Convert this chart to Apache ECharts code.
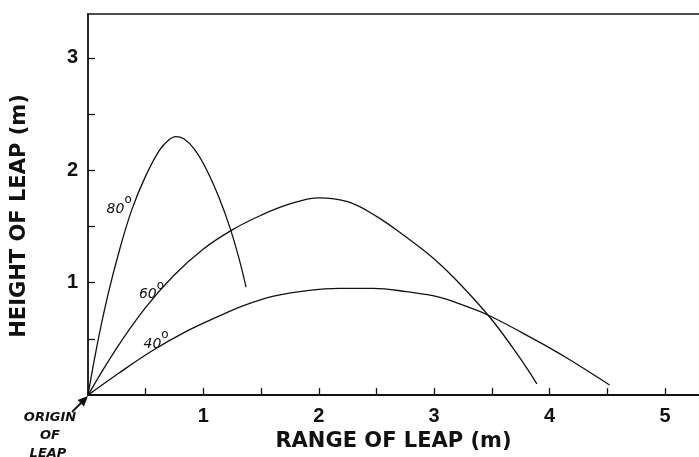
<!DOCTYPE html>
<html>
<head>
<meta charset="utf-8">
<script src="https://cdn.jsdelivr.net/npm/echarts@6/dist/echarts.min.js"></script>
<style>
  html, body { margin: 0; padding: 0; background: #fff; }
  #chart { width: 699px; height: 457px; }
</style>
</head>
<body>
<div id="chart"></div>
<script>
// ---- data ----
const range80  = [0, 0.08, 0.17, 0.27, 0.38, 0.50, 0.62, 0.70, 0.76, 0.83, 0.92, 1.02, 1.13, 1.23, 1.31, 1.37];
const height80 = [0, 0.45, 0.88, 1.28, 1.65, 1.95, 2.18, 2.27, 2.30, 2.28, 2.19, 2.02, 1.77, 1.49, 1.21, 0.96];

const range60  = [0, 0.25, 0.50, 0.75, 1.00, 1.25, 1.50, 1.75, 2.00, 2.25, 2.50, 2.75, 3.00, 3.25, 3.50, 3.75, 3.89];
const height60 = [0, 0.42, 0.78, 1.07, 1.30, 1.47, 1.60, 1.70, 1.755, 1.72, 1.59, 1.41, 1.21, 0.96, 0.67, 0.32, 0.10];

const range40  = [0, 0.26, 0.55, 0.84, 1.13, 1.36, 1.61, 1.90, 2.18, 2.47, 2.76, 3.05, 3.25, 3.47, 3.86, 4.15, 4.52];
const height40 = [0, 0.19, 0.39, 0.56, 0.70, 0.80, 0.88, 0.93, 0.95, 0.95, 0.92, 0.87, 0.80, 0.71, 0.50, 0.33, 0.09];

const angleNames = ['80', '60', '40'];
const angleLabelAt = [[0.27, 1.69], [0.55, 0.93], [0.59, 0.49]];

const xTicks = [0.5, 1, 1.5, 2, 2.5, 3, 3.5, 4, 4.5, 5];
const xTickLabels = [1, 2, 3, 4, 5];
const yTicks = [0.5, 1, 1.5, 2, 2.5, 3];
const yTickLabels = [1, 2, 3];

const xTitle = 'RANGE OF LEAP (m)';
const yTitle = 'HEIGHT OF LEAP (m)';
const originText = ['ORIGIN', 'OF', 'LEAP'];

// ---- chart ----
const pairs = (xs, ys) => xs.map((x, i) => [x, ys[i]]);
const FONT = '"DejaVu Sans", "Liberation Sans", sans-serif';
const DIGITS = '"Liberation Sans", Arial, sans-serif';
const INK = '#111';

function curve(name, xs, ys, idx) {
  return {
    name: name,
    type: 'line',
    data: pairs(xs, ys),
    symbol: 'none',
    smooth: 0.4,
    clip: false,
    lineStyle: { color: INK, width: 1.3 },
    silent: true,
    markPoint: {
      symbol: 'circle',
      symbolSize: 0,
      silent: true,
      data: [{
        coord: angleLabelAt[idx],
        label: {
          show: true,
          position: 'inside',
          formatter: '{n|' + angleNames[idx] + '}{o|o}',
          rich: {
            n: { fontFamily: FONT, fontSize: 14, fontStyle: 'italic', color: INK, lineHeight: 22, verticalAlign: 'bottom' },
            o: { fontFamily: FONT, fontSize: 12, color: INK, lineHeight: 22, verticalAlign: 'top' }
          }
        }
      }]
    }
  };
}

const originFont = 'italic bold 13px ' + FONT;

const chart = echarts.init(document.getElementById('chart'), null, { renderer: 'canvas' });
chart.setOption({
  animation: false,
  backgroundColor: '#fff',
  grid: { left: 88, right: 0, top: 14, bottom: 60, containLabel: false },
  xAxis: [{
    type: 'value', min: 0, max: 5.295,
    position: 'bottom',
    splitLine: { show: false },
    axisLine: { show: true, onZero: false, lineStyle: { color: INK, width: 1.8 } },
    axisTick: { show: true, inside: true, length: 7, customValues: xTicks, lineStyle: { color: INK, width: 1.3 } },
    axisLabel: { show: true, customValues: xTickLabels, margin: 11, color: INK, fontFamily: DIGITS, fontWeight: 'bold', fontSize: 20 },
    name: xTitle, nameLocation: 'middle', nameGap: 34,
    nameTextStyle: { color: INK, fontFamily: FONT, fontWeight: 'bold', fontSize: 21 }
  }, {
    type: 'value', min: 0, max: 5.295,
    position: 'top',
    splitLine: { show: false },
    axisLine: { show: true, onZero: false, lineStyle: { color: INK, width: 1.5 } },
    axisTick: { show: false },
    axisLabel: { show: false }
  }],
  yAxis: {
    type: 'value', min: 0, max: 3.39,
    splitLine: { show: false },
    axisLine: { show: true, onZero: false, lineStyle: { color: INK, width: 1.8 } },
    axisTick: { show: true, inside: true, length: 7, customValues: yTicks, lineStyle: { color: INK, width: 1.3 } },
    axisLabel: { show: true, customValues: yTickLabels, margin: 10, color: INK, fontFamily: DIGITS, fontWeight: 'bold', fontSize: 20 }
  },
  series: [
    curve('80°', range80, height80, 0),
    curve('60°', range60, height60, 1),
    curve('40°', range40, height40, 2)
  ],
  graphic: [
    {
      type: 'text', x: 20, y: 216, rotation: Math.PI / 2,
      style: { text: yTitle, fill: INK, font: 'bold 21px ' + FONT, align: 'center', verticalAlign: 'middle' }
    },
    { type: 'text', x: 50, y: 418, style: { text: originText[0], fill: INK, font: originFont, align: 'center', verticalAlign: 'middle' } },
    { type: 'text', x: 50, y: 436, style: { text: originText[1], fill: INK, font: originFont, align: 'center', verticalAlign: 'middle' } },
    { type: 'text', x: 48, y: 454, style: { text: originText[2], fill: INK, font: originFont, align: 'center', verticalAlign: 'middle' } },
    { type: 'line', shape: { x1: 72, y1: 412, x2: 82, y2: 402 }, style: { stroke: INK, lineWidth: 1.8 } },
    { type: 'polygon', shape: { points: [[88, 396], [77.5, 400], [84, 406.5]] }, style: { fill: INK } }
  ]
});
</script>
</body>
</html>
